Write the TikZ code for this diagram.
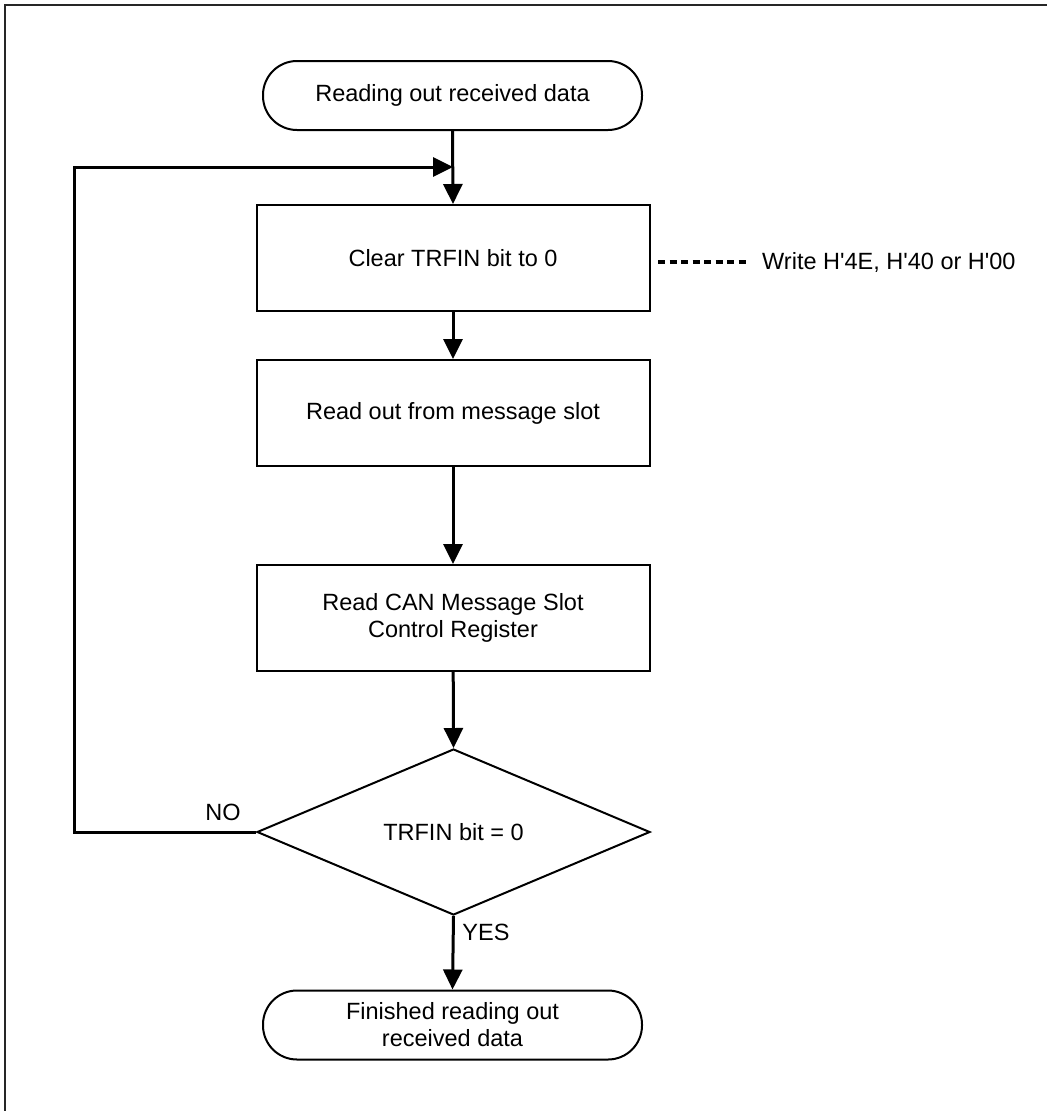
\documentclass[tikz,border=0pt]{standalone}
\usepackage{fontspec}
\setmainfont{Liberation Sans}[Ligatures=TeXOff]
\usetikzlibrary{shapes.geometric,arrows.meta}
\begin{document}
\begin{tikzpicture}[x=1pt,y=-1pt,
  every node/.style={font=\fontsize{23.5}{27}\selectfont},
  term/.style={draw,line width=2pt,rounded corners=34pt,minimum width=379pt,minimum height=69pt,align=center,inner sep=0pt},
  proc/.style={draw,line width=2pt,minimum width=393pt,minimum height=106pt,align=center,inner sep=0pt},
  dec/.style={draw,diamond,aspect=2.37,line width=2pt,minimum width=393pt,minimum height=166pt,inner sep=0pt},
  flow/.style={line width=3pt,-{Triangle[length=20pt,width=19pt]}},
  plain/.style={line width=3pt}
]
\useasboundingbox (0,0) rectangle (1047,1111);
\draw[line width=2pt,black!85] (5,1111) -- (5,5) -- (1047,5);

\node[term] (start) at (452.5,95.5) {Reading out received data};
\node[proc] (b1) at (453,258) {Clear TRFIN bit to 0};
\node[proc] (b2) at (453,413) {Read out from message slot};
\node[proc] (b3) at (453,618) {Read CAN Message Slot\\Control Register};
\node[dec] (d) at (453.5,832) {TRFIN bit = 0};
\node[term] (end) at (452.5,1025) {Finished reading out\\received data};

\coordinate (j) at (453,167);
\coordinate (lc) at (74,832);
\draw[flow] (start.south) -- (b1.north);
\draw[flow] (b1) -- (b2);
\draw[flow] (b2) -- (b3);
\draw[flow] (b3) -- (d.north);
\draw[flow] (d.south) -- (end.north);
\draw[flow] (d.west) -- (lc) |- (j);

\node (no) at (223,812) {NO};
\node (yes) at (486,932) {YES};

\coordinate (ds) at (658,262);
\coordinate (de) at (747,262);
\draw[line width=3.5pt,dash pattern=on 7pt off 4.5pt] (ds) -- (de);
\node[anchor=west,inner sep=0pt] (w) at (762,262) {Write H'4E, H'40 or H'00};
\end{tikzpicture}
\end{document}
